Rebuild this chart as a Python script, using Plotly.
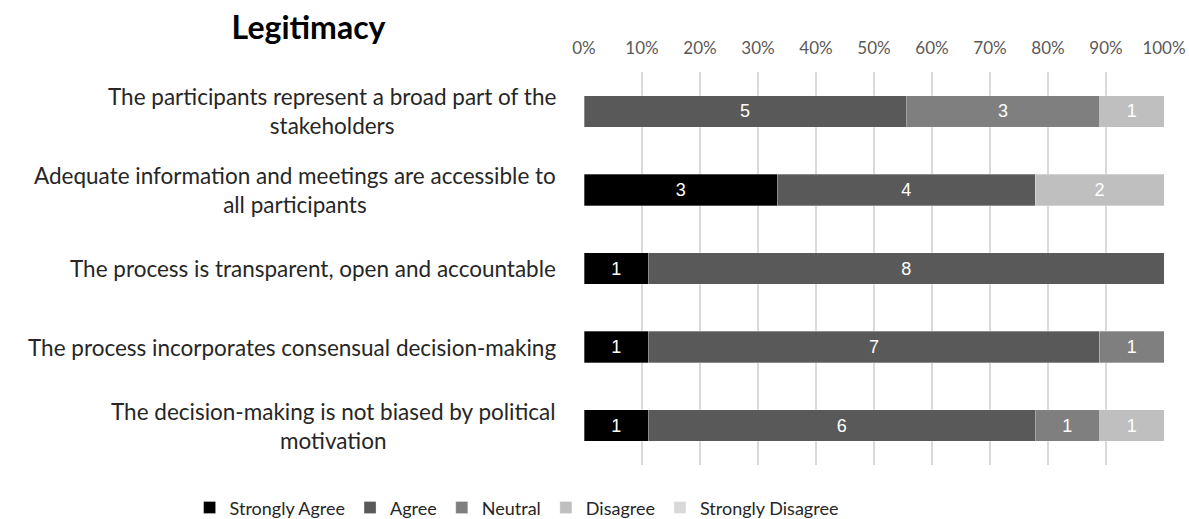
import plotly.graph_objects as go

categories = [
    "The participants represent a broad part of the<br>stakeholders",
    "Adequate information and meetings are accessible to<br>all participants",
    "The process is transparent, open and accountable",
    "The process incorporates consensual decision-making",
    "The decision-making is not biased by political<br>motivation",
]
series_names = ["Strongly Agree", "Agree", "Neutral", "Disagree", "Strongly Disagree"]
strongly_agree = [0, 3, 1, 1, 1]
agree = [5, 4, 8, 7, 6]
neutral = [3, 0, 0, 1, 1]
disagree = [1, 2, 0, 0, 1]
strongly_disagree = [0, 0, 0, 0, 0]
tick_vals = [0, 10, 20, 30, 40, 50, 60, 70, 80, 90, 100]
tick_text = ["0%", "10%", "20%", "30%", "40%", "50%", "60%", "70%", "80%", "90%", "100%"]

colors = ["#000000", "#595959", "#7f7f7f", "#bfbfbf", "#d9d9d9"]
all_series = [strongly_agree, agree, neutral, disagree, strongly_disagree]

ids = list(range(len(categories)))

fig = go.Figure()
for name, vals, col in zip(series_names, all_series, colors):
    fig.add_trace(go.Bar(
        name=name, y=ids, x=vals, orientation="h",
        marker=dict(color=col, line=dict(color="rgba(255,255,255,0.6)", width=0.5)),
        text=[str(v) if v else "" for v in vals],
        textposition="inside", insidetextanchor="middle",
        textfont=dict(color="white", size=18, family="Liberation Sans"),
        hoverinfo="skip",
    ))

for i, c in enumerate(categories):
    fig.add_annotation(
        x=-0.045, xref="paper", y=i, yref="y", text=c, showarrow=False,
        xanchor="right", yanchor="middle", align="center",
        font=dict(family="Lato", size=22.5, color="#262626"),
    )

fig.update_layout(
    width=1189, height=519,
    barmode="stack", barnorm="percent", bargap=0.6,
    plot_bgcolor="white", paper_bgcolor="white",
    margin=dict(l=584, r=25, t=72, b=54, autoexpand=False),
    title=dict(text="<b>Legitimacy</b>", x=0.2595, xanchor="center", y=0.946, yanchor="middle",
               font=dict(family="Lato", size=32, color="black")),
    xaxis=dict(side="top", range=[0, 100], tickvals=tick_vals, ticktext=tick_text,
               showgrid=True, gridcolor="#d9d9d9", gridwidth=1.5, zeroline=False,
               tickfont=dict(family="Lato", size=17, color="#595959"), ticks="",
               ticklabelstandoff=14, automargin=False),
    yaxis=dict(range=[4.5, -0.5], autorange=False, showticklabels=False, showgrid=False,
               zeroline=False, automargin=False),
    legend=dict(orientation="h", x=-0.68, xanchor="left",
                y=-0.109, yanchor="middle", itemwidth=30,
                font=dict(family="Lato", size=18, color="#262626"),
                traceorder="normal"),
    showlegend=True,
)

fig.write_html("out.html")
